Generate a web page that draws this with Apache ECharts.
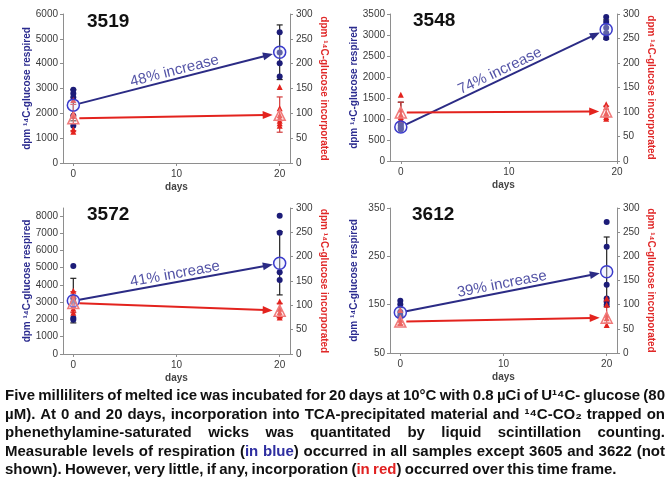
<!DOCTYPE html>
<html><head><meta charset="utf-8">
<script src="https://cdn.jsdelivr.net/npm/echarts@6/dist/echarts.min.js"></script>
<style>html,body{margin:0;padding:0;background:#fff}#c{width:671px;height:479px}</style>
</head><body><div id="c"></div>
<script>
// ---------------- data ----------------
const panelIds = ['3519', '3548', '3572', '3612'];
const sampleDays = [[0, 20], [0, 19], [0, 20], [0, 20]];
const dayTicks = [0, 10, 20];
const dayMax = [21, 20, 21, 21];

const respiredDay0 = [[2950, 2800, 2650, 1900, 1500], [900, 850, 780, 750], [5100, 3230, 3000, 2080, 1980], [158, 151, 135, 128]];
const respiredEnd = [[5270, 4450, 4020, 3480], [3430, 3310, 3170, 3050, 2930], [8000, 7020, 4730, 4290], [321, 270, 191, 163, 156, 150]];
const respiredMean = [[2330, 4460], [810, 3130], [3080, 5250], [134, 218]];
const respiredErrLow = [[1700, 3360], [810, 2900], [1800, 3420], [124, 146]];
const respiredErrHigh = [[2950, 5560], [1400, 3360], [4380, 7080], [144, 290]];

const incorporatedDay0 = [[127, 100, 95, 68, 63], [135, 105, 95, 90, 85], [130, 120, 100, 93, 85], [89, 69, 62]];
const incorporatedEnd = [[153, 110, 96, 90, 85, 80, 75], [116, 110, 98, 90, 86], [108, 93, 86, 79, 75], [113, 100, 79, 72, 58]];
const incorporatedMean = [[90, 97], [99, 101], [105, 89], [65, 73]];
const incorporatedErrLow = [[65, 62], [80, 90], [85, 75], [58, 62]];
const incorporatedErrHigh = [[118, 133], [120, 112], [128, 104], [74, 108]];

const increaseLabels = ['48% increase', '74% increase', '41% increase', '39% increase'];

const respiredMin = [0, 0, 0, 50];
const respiredMax = [6000, 3500, 8450, 350];
const respiredTicks = [
  [0, 1000, 2000, 3000, 4000, 5000, 6000],
  [0, 500, 1000, 1500, 2000, 2500, 3000, 3500],
  [0, 1000, 2000, 3000, 4000, 5000, 6000, 7000, 8000],
  [50, 150, 250, 350]
];
const incorporatedTicks = [0, 50, 100, 150, 200, 250, 300];
const incorporatedMax = 300;

const leftName = 'dpm ¹⁴C-glucose respired';
const rightName = 'dpm ¹⁴C-glucose incorporated';

const captionLines = [
  [{t: 'Five milliliters of melted ice was incubated for 20 days at 10°C with 0.8 µCi of U¹⁴C- glucose (80'}],
  [{t: 'µM). At 0 and 20 days, incorporation into TCA-precipitated material and ¹⁴C-CO₂ trapped on'}],
  [{t: 'phenethylamine-saturated wicks was quantitated by liquid scintillation counting.'}],
  [{t: 'Measurable levels of respiration ('}, {t: 'in blue', c: '#2e2ea0'}, {t: ') occurred in all samples except 3605 and 3622 (not'}],
  [{t: 'shown).  However, very little, if any, incorporation ('}, {t: 'in red', c: '#e02020'}, {t: ') occurred over this time frame.'}]
];

// ---------------- layout / style ----------------
const FONT = "'Liberation Sans', Arial, Helvetica, sans-serif";
const CAP_FONT = "'Liberation Sans', Arial, sans-serif";
const grids = [
  {left: 63, top: 14, width: 227, height: 149},
  {left: 390, top: 14, width: 227, height: 147},
  {left: 63, top: 208, width: 227, height: 146},
  {left: 390, top: 208, width: 227, height: 145}
];
const titlePos = [[87, 12], [413, 11], [87, 205], [412, 205]];
const BLUE_DOT = '#1c1c78', BLUE_MEAN = '#3a3acb', BLUE_ARROW = '#2b2b85';
const RED = '#e3231e', RED_MEAN = '#f07a7a', AX = '#8e8e8e', LBL = '#3a3a3a';
const plain = v => String(v);

function errRender(color) {
  return function (params, api) {
    const x = api.value(0), lo = api.value(1), hi = api.value(2);
    const p1 = api.coord([x, lo]), p2 = api.coord([x, hi]);
    const st = {stroke: color, lineWidth: 1.2};
    return {type: 'group', children: [
      {type: 'line', shape: {x1: p1[0], y1: p1[1], x2: p2[0], y2: p2[1]}, style: st},
      {type: 'line', shape: {x1: p2[0] - 3, y1: p2[1], x2: p2[0] + 3, y2: p2[1]}, style: st},
      {type: 'line', shape: {x1: p1[0] - 3, y1: p1[1], x2: p1[0] + 3, y2: p1[1]}, style: st}
    ]};
  };
}
function arrowRender(color) {
  return function (params, api) {
    const a = api.coord([api.value(0), api.value(1)]);
    const b = api.coord([api.value(2), api.value(3)]);
    let dx = b[0] - a[0], dy = b[1] - a[1];
    const L = Math.sqrt(dx * dx + dy * dy); dx /= L; dy /= L;
    const s = [a[0] + dx * 6, a[1] + dy * 6];
    const e = [b[0] - dx * 7, b[1] - dy * 7];
    const hl = 10, hw = 4;
    const base = [e[0] - dx * hl, e[1] - dy * hl];
    const nx = -dy, ny = dx;
    return {type: 'group', children: [
      {type: 'line', shape: {x1: s[0], y1: s[1], x2: base[0] + dx * 2, y2: base[1] + dy * 2}, style: {stroke: color, lineWidth: 2}},
      {type: 'polygon', shape: {points: [e, [base[0] + nx * hw, base[1] + ny * hw], [base[0] - nx * hw, base[1] - ny * hw]]}, style: {fill: color}}
    ]};
  };
}

const option = {
  animation: false,
  backgroundColor: '#ffffff',
  title: panelIds.map((t, i) => ({text: t, left: titlePos[i][0], top: titlePos[i][1], padding: 0,
    textStyle: {fontSize: 19, fontWeight: 'bold', fontFamily: FONT, color: '#111'}})),
  grid: grids.map(g => Object.assign({containLabel: false}, g)),
  xAxis: [], yAxis: [], series: []
};

for (let i = 0; i < 4; i++) {
  option.xAxis.push({
    type: 'value', gridIndex: i, min: -1, max: dayMax[i],
    name: 'days', nameLocation: 'middle', nameGap: 19,
    nameTextStyle: {fontSize: 10, fontWeight: 'bold', color: '#444', fontFamily: FONT},
    axisLine: {show: true, onZero: false, lineStyle: {color: AX}},
    axisTick: {show: true, customValues: dayTicks, length: 3, lineStyle: {color: AX}},
    axisLabel: {customValues: dayTicks, formatter: plain, fontSize: 10, color: LBL, margin: 6, fontFamily: FONT},
    splitLine: {show: false}
  });
  option.yAxis.push({
    type: 'value', gridIndex: i, position: 'left', min: respiredMin[i], max: respiredMax[i],
    name: leftName, nameLocation: 'middle', nameGap: 31,
    nameTextStyle: {fontSize: 10, fontWeight: 'bold', color: '#2b2b8f', fontFamily: FONT},
    axisLine: {show: true, onZero: false, lineStyle: {color: AX}},
    axisTick: {show: true, customValues: respiredTicks[i], length: 3, lineStyle: {color: AX}},
    axisLabel: {customValues: respiredTicks[i], formatter: plain, fontSize: 10, color: LBL, margin: 5, fontFamily: FONT},
    splitLine: {show: false}
  });
  option.yAxis.push({
    type: 'value', gridIndex: i, position: 'right', min: 0, max: incorporatedMax,
    name: rightName, nameLocation: 'middle', nameGap: 29, nameRotate: -90,
    nameTextStyle: {fontSize: 10, fontWeight: 'bold', color: '#e02828', fontFamily: FONT},
    axisLine: {show: true, onZero: false, lineStyle: {color: AX}},
    axisTick: {show: true, customValues: incorporatedTicks, length: 3, lineStyle: {color: AX}},
    axisLabel: {customValues: incorporatedTicks, formatter: plain, fontSize: 10, color: LBL, margin: 6, fontFamily: FONT},
    splitLine: {show: false}
  });
  const d = sampleDays[i];
  const L = 2 * i, R = 2 * i + 1;
  option.series.push(
    {type: 'custom', xAxisIndex: i, yAxisIndex: L, z: 1, clip: false, renderItem: errRender('#222'),
      encode: {x: 0, y: [1, 2]},
      data: d.map((x, k) => [x, respiredErrLow[i][k], respiredErrHigh[i][k]])},
    {type: 'custom', xAxisIndex: i, yAxisIndex: R, z: 1, clip: false, renderItem: errRender('#d23a3a'),
      encode: {x: 0, y: [1, 2]},
      data: d.map((x, k) => [x, incorporatedErrLow[i][k], incorporatedErrHigh[i][k]])},
    {type: 'scatter', xAxisIndex: i, yAxisIndex: L, z: 2, symbol: 'circle', symbolSize: 6,
      itemStyle: {color: BLUE_DOT, opacity: 1},
      data: respiredDay0[i].map(v => [d[0], v]).concat(respiredEnd[i].map(v => [d[1], v]))},
    {type: 'scatter', xAxisIndex: i, yAxisIndex: R, z: 2, symbol: 'triangle', symbolSize: 6,
      itemStyle: {color: RED, opacity: 1},
      data: incorporatedDay0[i].map(v => [d[0], v]).concat(incorporatedEnd[i].map(v => [d[1], v]))},
    {type: 'custom', xAxisIndex: i, yAxisIndex: L, z: 3, clip: false, renderItem: arrowRender(BLUE_ARROW),
      encode: {x: [0, 2], y: [1, 3]},
      data: [[d[0], respiredMean[i][0], d[1], respiredMean[i][1]]]},
    {type: 'custom', xAxisIndex: i, yAxisIndex: R, z: 3, clip: false, renderItem: arrowRender(RED),
      encode: {x: [0, 2], y: [1, 3]},
      data: [[d[0], incorporatedMean[i][0], d[1], incorporatedMean[i][1]]]},
    {type: 'scatter', xAxisIndex: i, yAxisIndex: L, z: 4, symbol: 'circle', symbolSize: 12,
      itemStyle: {color: 'rgba(220,225,255,0.35)', borderColor: BLUE_MEAN, borderWidth: 1.5, opacity: 1},
      data: d.map((x, k) => [x, respiredMean[i][k]])},
    {type: 'scatter', xAxisIndex: i, yAxisIndex: R, z: 4, symbol: 'triangle', symbolSize: 11,
      itemStyle: {color: 'rgba(255,220,220,0.35)', borderColor: RED_MEAN, borderWidth: 1.5, opacity: 1},
      data: d.map((x, k) => [x, incorporatedMean[i][k]])}
  );
}

const chart = echarts.init(document.getElementById('c'), null, {renderer: 'canvas'});
chart.setOption(option);

// ---------- annotations along arrows ----------
const graphics = [];
for (let i = 0; i < 4; i++) {
  const d = sampleDays[i];
  const a = chart.convertToPixel({xAxisIndex: i, yAxisIndex: 2 * i}, [d[0], respiredMean[i][0]]);
  const b = chart.convertToPixel({xAxisIndex: i, yAxisIndex: 2 * i}, [d[1], respiredMean[i][1]]);
  let dx = b[0] - a[0], dy = b[1] - a[1];
  const len = Math.sqrt(dx * dx + dy * dy); dx /= len; dy /= len;
  const mx = (a[0] + b[0]) / 2, my = (a[1] + b[1]) / 2;
  graphics.push({
    type: 'text', x: mx + dy * 8, y: my - dx * 8, rotation: Math.atan2(-(b[1] - a[1]), b[0] - a[0]), z: 10,
    style: {text: increaseLabels[i], fontSize: 15, fontFamily: FONT, fill: '#5353a6',
      align: 'center', verticalAlign: 'middle'}
  });
}

// ---------- caption (justified) ----------
const CAP_SIZE = 15;
const ctx = document.createElement('canvas').getContext('2d');
ctx.font = 'bold ' + CAP_SIZE + 'px ' + CAP_FONT;
const spaceW = ctx.measureText(' ').width;
const capLeft = 5, capRight = 665, capTarget = capRight - capLeft;
const lineY = [396, 414.5, 433, 451.5, 470];
const tokenized = captionLines.map(segs => {
  const words = []; let cur = [];
  segs.forEach(seg => {
    const parts = seg.t.split(' ');
    parts.forEach((p, j) => {
      if (j > 0 && cur.length) { words.push(cur); cur = []; }
      if (p.length) cur.push({t: p, c: seg.c || '#111'});
    });
  });
  if (cur.length) words.push(cur);
  words.forEach(w => { w.forEach(p => p.w = ctx.measureText(p.t).width); w.w = w.reduce((s, p) => s + p.w, 0); });
  return words;
});
let natMax = 0;
tokenized.forEach(words => {
  const nat = words.reduce((s, w) => s + w.w, 0) + spaceW * 0.6 * (words.length - 1);
  natMax = Math.max(natMax, nat);
});
const sx = Math.min(1, capTarget / natMax);
tokenized.forEach((words, li) => {
  const sumW = words.reduce((s, w) => s + w.w, 0) * sx;
  const justify = li < tokenized.length - 1;
  const gap = justify ? (capTarget - sumW) / (words.length - 1) : spaceW * 0.8 * sx;
  let x = capLeft;
  words.forEach(w => {
    let px = x;
    w.forEach(p => {
      graphics.push({type: 'text', x: px, y: lineY[li], scaleX: sx, z: 10,
        style: {text: p.t, fontSize: CAP_SIZE, fontWeight: 'bold', fontFamily: CAP_FONT, fill: p.c,
          align: 'left', verticalAlign: 'middle'}});
      px += p.w * sx;
    });
    x += w.w * sx + gap;
  });
});
chart.setOption({graphic: graphics});
</script>
</body></html>
